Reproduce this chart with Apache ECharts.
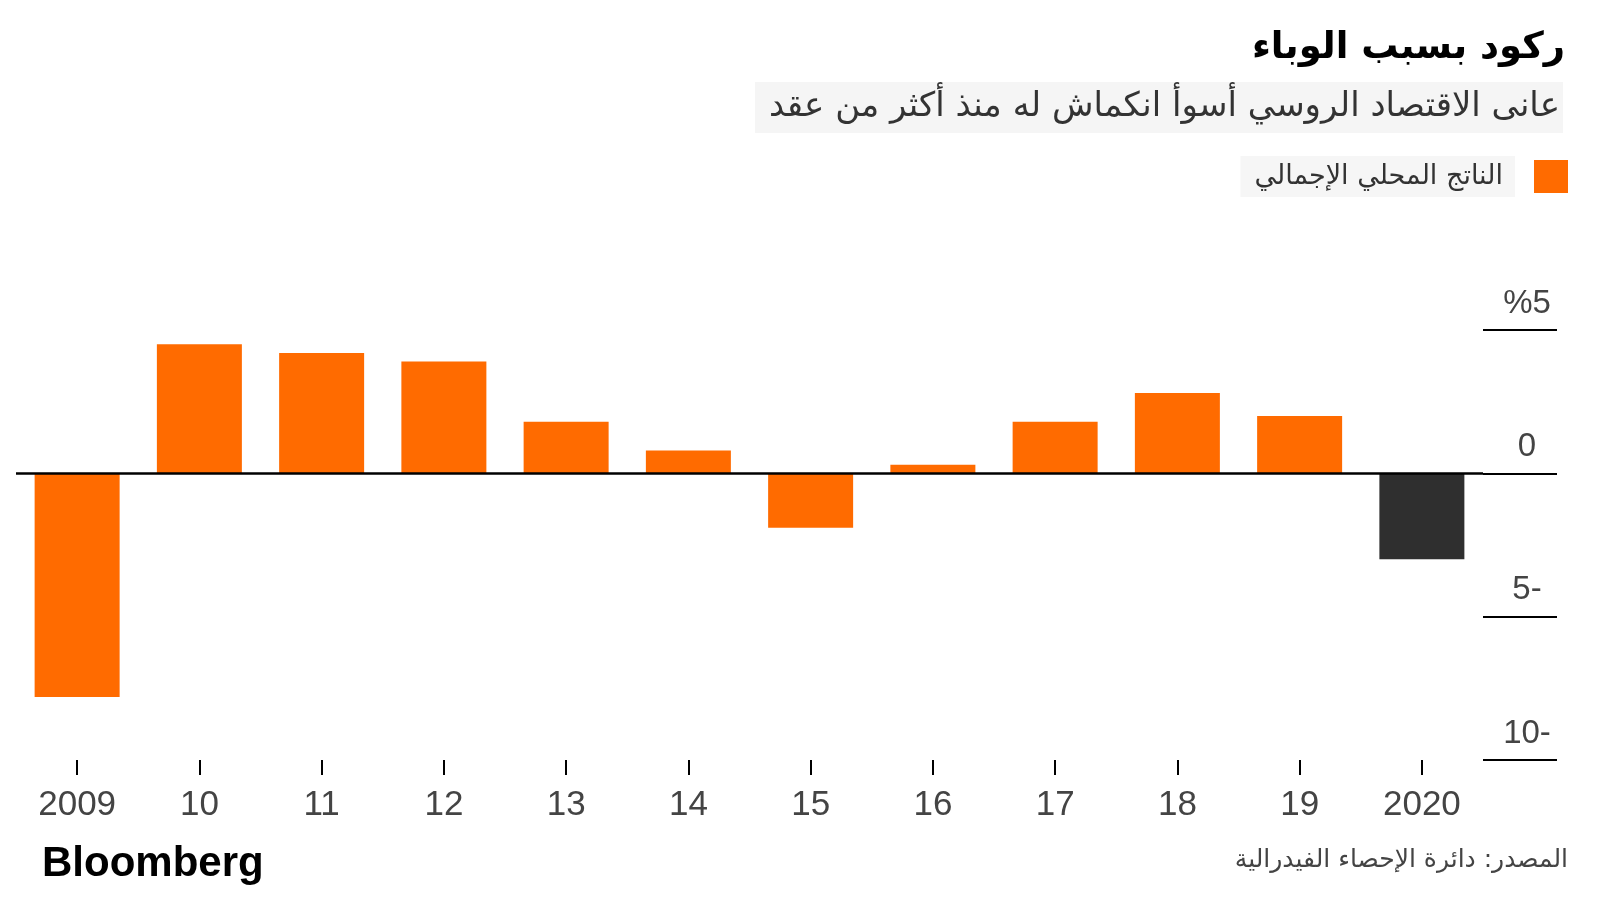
<!DOCTYPE html>
<html>
<head>
<meta charset="utf-8">
<script src="https://cdn.jsdelivr.net/npm/echarts@6/dist/echarts.min.js"></script>
<style>
  html, body { margin: 0; padding: 0; background: #ffffff; }
  #chart { width: 1600px; height: 900px; }
</style>
</head>
<body>
<div id="chart"></div>
<script>
// ---- data ----
const categories = ['2009', '10', '11', '12', '13', '14', '15', '16', '17', '18', '19', '2020'];
const gdpGrowth = [-7.8, 4.5, 4.2, 3.9, 1.8, 0.8, -1.9, 0.3, 1.8, 2.8, 2.0, -3.0];
const seriesName = 'الناتج المحلي الإجمالي';
const highlightCategory = '2020';
const yTicks = [5, 0, -5, -10];
const yTickLabels = ['%5', '0', '5-', '10-'];
const titleText = 'ركود بسبب الوباء';
const subtitleText = 'عانى الاقتصاد الروسي أسوأ انكماش له منذ أكثر من عقد';
const sourceText = 'المصدر: دائرة الإحصاء الفيدرالية';
const brandText = 'Bloomberg';

// ---- style ----
const ORANGE = '#ff6b00';
const DARK = '#2f2f2f';
const LATIN = "'Liberation Sans', Arial, sans-serif";
const ARABIC = "'DejaVu Sans', sans-serif";

const chart = echarts.init(document.getElementById('chart'), null, { renderer: 'canvas' });

const seriesData = gdpGrowth.map((v, i) =>
  categories[i] === highlightCategory ? { value: v, itemStyle: { color: DARK } } : v
);

chart.setOption({
  animation: false,
  backgroundColor: '#ffffff',
  title: [
    {
      text: titleText,
      right: 35, top: 30, padding: 0,
      textStyle: { fontFamily: ARABIC, fontSize: 37, fontWeight: 'bold', color: '#000000' }
    },
    {
      text: subtitleText,
      right: 37, top: 82,
      padding: [8, 3, 8, 14],
      backgroundColor: '#f5f5f5',
      textStyle: { fontFamily: ARABIC, fontSize: 34, fontWeight: 'normal', color: '#333333', lineHeight: 35 }
    },
    {
      text: sourceText,
      right: 32, top: 848, padding: 0,
      textStyle: { fontFamily: ARABIC, fontSize: 25, fontWeight: 'normal', color: '#444444' }
    },
    {
      text: brandText,
      left: 42, top: 843, padding: 0,
      textStyle: { fontFamily: LATIN, fontSize: 42, fontWeight: 'bold', color: '#000000' }
    }
  ],
  legend: {
    right: 32, top: 156,
    align: 'right',
    itemWidth: 34, itemHeight: 33,
    icon: 'rect',
    padding: 0,
    data: [{ name: seriesName, itemStyle: { color: ORANGE } }],
    formatter: name => '{t|' + name + '}{g|}',
    textStyle: {
      rich: {
        t: {
          fontFamily: ARABIC, fontSize: 27, color: '#333333',
          backgroundColor: '#f6f6f6', padding: [7, 12, 7, 14], lineHeight: 26
        },
        g: { width: 14 }
      }
    }
  },
  grid: { left: 16, right: 117, top: 330, bottom: 140, containLabel: false },
  xAxis: {
    type: 'category',
    data: categories,
    position: 'bottom',
    axisLine: { show: false, onZero: false },
    axisTick: { show: true, alignWithLabel: true, length: 15, lineStyle: { color: '#000000', width: 2 } },
    axisLabel: { margin: 28, fontFamily: LATIN, fontSize: 35, color: '#444444', lineHeight: 35 },
    splitLine: { show: false }
  },
  yAxis: {
    type: 'value',
    position: 'right',
    min: -10, max: 5, interval: 5,
    axisLine: { show: false },
    axisTick: { show: true, inside: false, length: 74, lineStyle: { color: '#000000', width: 2 } },
    splitLine: { show: false },
    axisLabel: {
      margin: 44, align: 'center', verticalAlign: 'bottom',
      fontFamily: LATIN, fontSize: 33, lineHeight: 33, color: '#444444',
      padding: [0, 0, 10, 0],
      formatter: v => {
        const k = yTicks.indexOf(v);
        return k >= 0 ? yTickLabels[k] : '';
      }
    }
  },
  series: [{
    name: seriesName,
    type: 'bar',
    data: seriesData,
    barWidth: 85,
    itemStyle: { color: ORANGE },
    markLine: {
      silent: true,
      symbol: 'none',
      label: { show: false },
      lineStyle: { color: '#000000', width: 2.5, type: 'solid' },
      data: [{ yAxis: 0 }]
    }
  }]
});
</script>
</body>
</html>
